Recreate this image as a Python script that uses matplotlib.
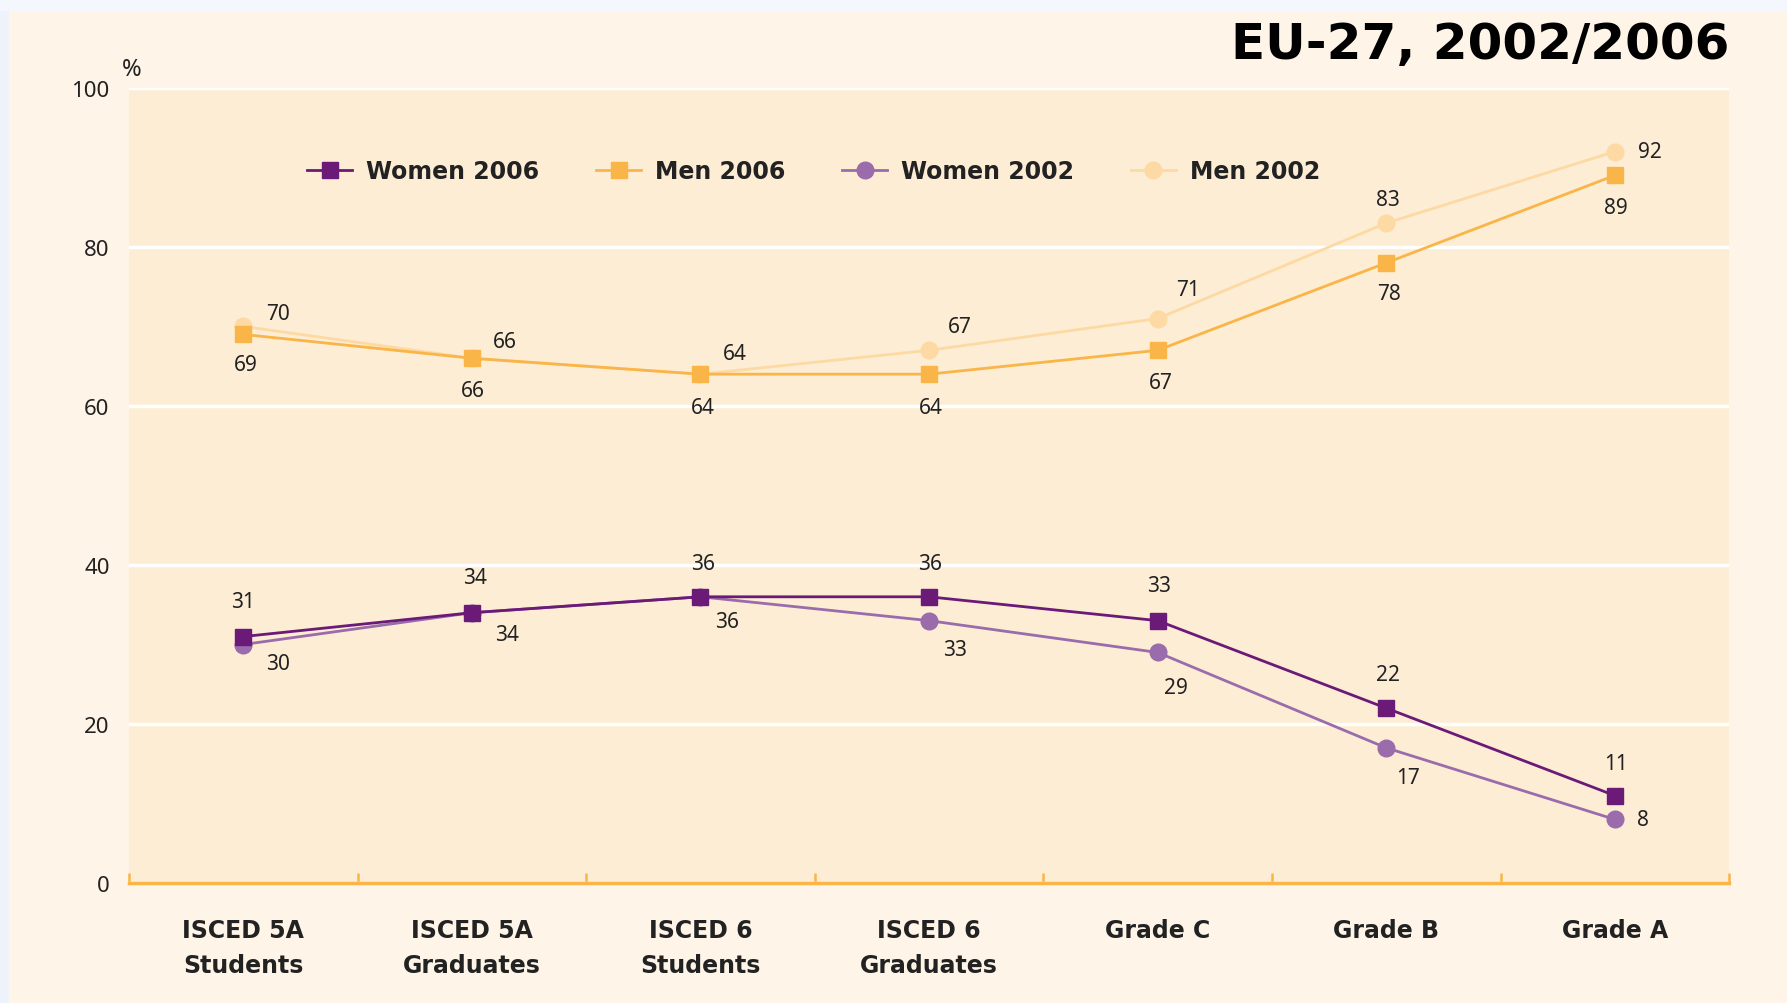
import matplotlib
matplotlib.use("Agg")
import matplotlib.pyplot as plt
from matplotlib.patches import Rectangle

categories = ["ISCED 5A\nStudents", "ISCED 5A\nGraduates", "ISCED 6\nStudents",
              "ISCED 6\nGraduates", "Grade C", "Grade B", "Grade A"]
women_2006 = [31, 34, 36, 36, 33, 22, 11]
men_2006 = [69, 66, 64, 64, 67, 78, 89]
women_2002 = [30, 34, 36, 33, 29, 17, 8]
men_2002 = [70, 66, 64, 67, 71, 83, 92]
yticks = [0, 20, 40, 60, 80, 100]

C_W06 = "#6B1A78"
C_M06 = "#F9B548"
C_W02 = "#9A6CAC"
C_M02 = "#FDD9A3"
FIG_BG = "#FEF4E7"
AX_BG = "#FDEDD5"

fig = plt.figure(figsize=(17.87, 10.04), dpi=100, facecolor=FIG_BG)
# slide border artifacts
fig.patches.append(Rectangle((0, 0.988), 1, 0.012, transform=fig.transFigure,
                             facecolor="#F4F7FD", edgecolor="none", zorder=0))
fig.patches.append(Rectangle((0, 0), 0.005, 0.988, transform=fig.transFigure,
                             facecolor="#EEF2FB", edgecolor="none", zorder=0))

ax = fig.add_axes([0.0722, 0.1195, 0.8954, 0.7919])
ax.set_facecolor(AX_BG)
x = list(range(len(categories)))

ax.set_xlim(-0.5, 6.5)
ax.set_ylim(0, 100)
ax.set_yticks(yticks)
ax.yaxis.grid(True, color="white", linewidth=2.5)
ax.set_axisbelow(True)
for s in ["left", "right", "top"]:
    ax.spines[s].set_visible(False)
ax.spines["bottom"].set_color(C_M06)
ax.spines["bottom"].set_linewidth(2.5)

ax.set_xticks([i - 0.5 for i in range(len(categories) + 1)], minor=False)
ax.set_xticklabels([])
ax.tick_params(axis="x", which="major", direction="in", length=7, width=1.8, color=C_M06)
ax.set_xticks(x, minor=True)
ax.set_xticklabels(categories, minor=True, fontsize=17, fontweight="bold",
                   family=["DejaVu Sans"], color="#222222",
                   linespacing=1.6)
ax.tick_params(axis="x", which="minor", length=0, pad=25)
ax.tick_params(axis="y", length=0, pad=14, labelsize=16, labelcolor="#222222")
for lbl in ax.get_yticklabels():
    lbl.set_family(["Noto Sans", "DejaVu Sans"])

lw = 2.0
ax.plot(x, men_2002, color=C_M02, lw=lw, marker="o", ms=12, mec=C_M02, label="Men 2002", zorder=3)
ax.plot(x, men_2006, color=C_M06, lw=lw, marker="s", ms=11, mec=C_M06, label="Men 2006", zorder=4)
ax.plot(x, women_2002, color=C_W02, lw=lw, marker="o", ms=12, mec=C_W02, label="Women 2002", zorder=3)
ax.plot(x, women_2006, color=C_W06, lw=lw, marker="s", ms=11, mec=C_W06, label="Women 2006", zorder=4)

lab_kw = dict(textcoords="offset points", fontsize=15, color="#222222",
              family=["Noto Sans", "DejaVu Sans"], va="center", ha="center")
m02_off = [(25, 9), (24, 12), (25, 15), (22, 17), (22, 21), (1, 17), (25, 0)]
m06_off = [(2, -22), (1, -23), (2, -24), (1, -24), (2, -23), (2, -22), (1, -23)]
w06_off = [(0, 25), (2, 25), (2, 24), (1, 24), (1, 25), (1, 24), (1, 23)]
w02_off = [(25, -14), (25, -16), (19, -18), (19, -21), (13, -25), (16, -21), (20, 0)]
for i in x:
    ax.annotate(str(men_2002[i]), (i, men_2002[i]), xytext=m02_off[i], **lab_kw)
    ax.annotate(str(men_2006[i]), (i, men_2006[i]), xytext=m06_off[i], **lab_kw)
    ax.annotate(str(women_2006[i]), (i, women_2006[i]), xytext=w06_off[i], **lab_kw)
    ax.annotate(str(women_2002[i]), (i, women_2002[i]), xytext=w02_off[i], **lab_kw)

handles, labels = ax.get_legend_handles_labels()
order = [3, 1, 2, 0]
leg = ax.legend([handles[k] for k in order], [labels[k] for k in order],
                loc="center", bbox_to_anchor=(0.428, 0.895), ncol=4, frameon=False,
                handlelength=1.9, handletextpad=0.6, columnspacing=2.4,
                prop={"size": 17, "weight": "bold", "family": ["DejaVu Sans"]})
for t in leg.get_texts():
    t.set_color("#222222")

fig.text(0.0735, 0.930, "%", fontsize=17, color="#222222", ha="center", va="center",
         family=["Noto Sans", "DejaVu Sans"])
fig.text(0.9675, 0.955, "EU-27, 2002/2006", fontsize=36, fontweight="bold",
         ha="right", va="center", color="black", family=["DejaVu Sans"])

fig.savefig("out.png", dpi=100, facecolor=FIG_BG)
